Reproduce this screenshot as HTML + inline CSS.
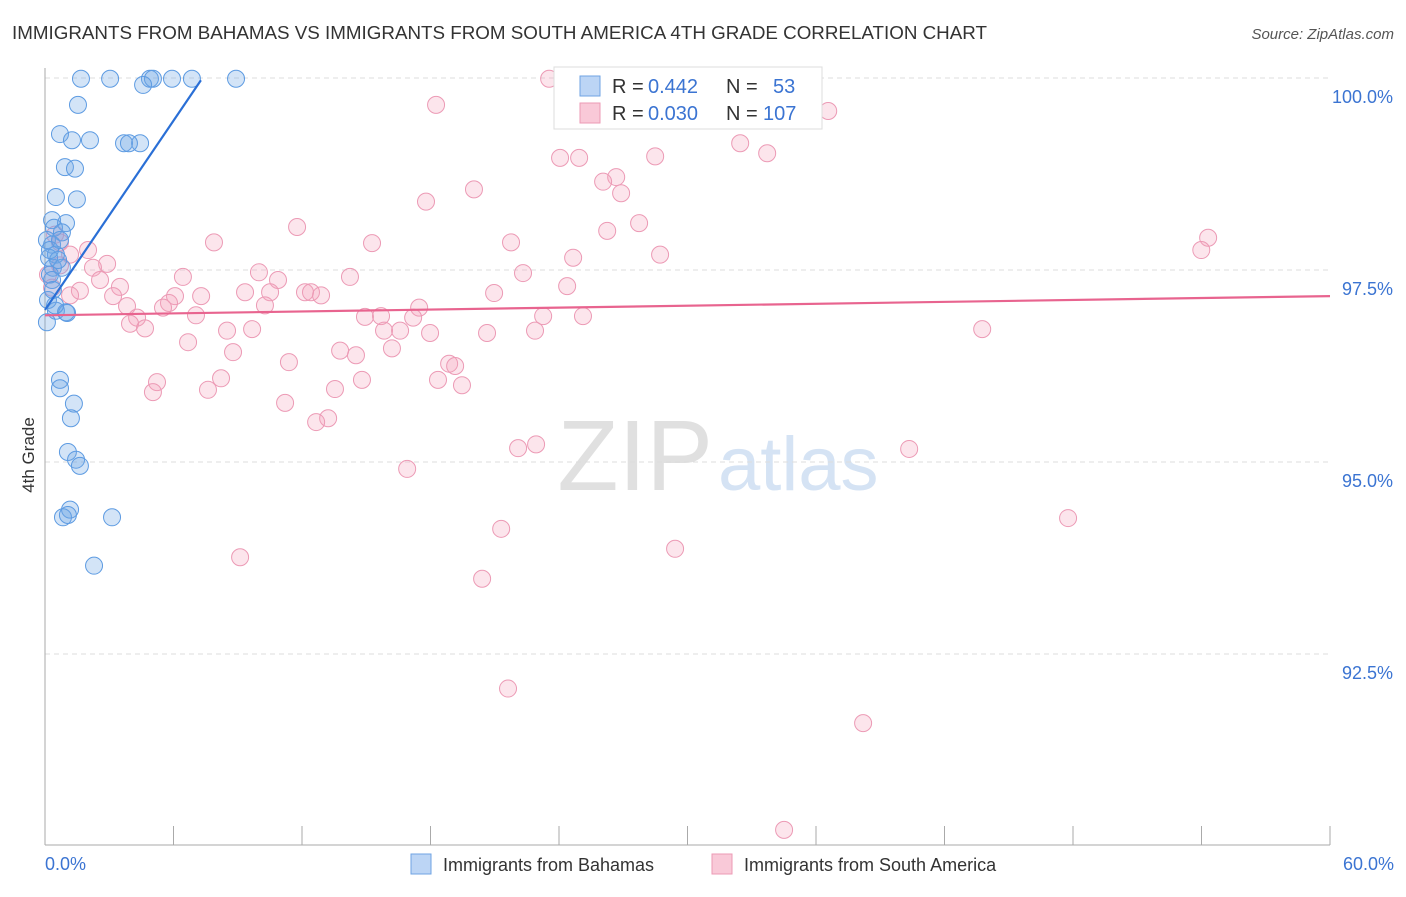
<!DOCTYPE html>
<html><head><meta charset="utf-8"><style>
body{margin:0;background:#fff;font-family:"Liberation Sans",sans-serif}
svg text{font-family:"Liberation Sans",sans-serif}
</style></head><body>
<svg id="c" width="1406" height="892" xmlns="http://www.w3.org/2000/svg">
<text x="12" y="39" font-size="18.8" fill="#333">IMMIGRANTS FROM BAHAMAS VS IMMIGRANTS FROM SOUTH AMERICA 4TH GRADE CORRELATION CHART</text>
<text x="1394" y="39" font-size="15" fill="#555" text-anchor="end" font-style="italic">Source: ZipAtlas.com</text>
<text x="713" y="490" font-size="100" fill="#e0e0e0" text-anchor="end" font-family="Liberation Serif">ZIP</text>
<text x="718" y="490" font-size="76" fill="#d5e3f4">atlas</text>
<g id="grid"></g><g id="axes"></g><g id="pts"></g><g id="trend"></g>
<text x="34" y="455" font-size="17" fill="#333" text-anchor="middle" transform="rotate(-90 34 455)">4th Grade</text>
<g>
<rect x="554" y="67" width="268" height="62" fill="#fff" stroke="#ddd"/>
<rect x="580" y="76" width="20" height="20" fill="#bcd5f5" stroke="#6fa3e3"/>
<rect x="580" y="103" width="20" height="20" fill="#f9c9d8" stroke="#ec9ab5"/>
<text x="612" y="93" font-size="20" fill="#333">R =</text>
<text x="648" y="93" font-size="20" fill="#3b74d2">0.442</text>
<text x="726" y="93" font-size="20" fill="#333">N =</text>
<text x="773" y="93" font-size="20" fill="#3b74d2">53</text>
<text x="612" y="120" font-size="20" fill="#333">R =</text>
<text x="648" y="120" font-size="20" fill="#3b74d2">0.030</text>
<text x="726" y="120" font-size="20" fill="#333">N =</text>
<text x="763" y="120" font-size="20" fill="#3b74d2">107</text>
</g>
<g>
<rect x="411" y="854" width="20" height="20" fill="#bcd5f5" stroke="#6fa3e3"/>
<text x="443" y="871" font-size="18" fill="#333">Immigrants from Bahamas</text>
<rect x="712" y="854" width="20" height="20" fill="#f9c9d8" stroke="#ec9ab5"/>
<text x="744" y="871" font-size="18" fill="#333">Immigrants from South America</text>
</g>
</svg>
<script>
const xTicks=[0,6,12,18,24,30,36,42,48,54,60];
const yTicks=[92.5,95,97.5,100];
const yTickLabels=["92.5%","95.0%","97.5%","100.0%"];
const blueX=[1.68,3.04,4.90,5.04,5.93,6.86,8.92,4.58,1.54,0.70,1.26,2.10,3.69,4.44,3.92,0.93,1.40,0.51,1.49,0.33,0.98,0.42,0.79,0.33,0.51,0.19,0.37,0.79,0.23,0.33,0.51,0.98,0.09,0.70,0.70,1.35,1.21,1.07,1.45,1.63,1.17,0.84,1.07,3.13,2.29,0.14,0.37,0.61,0.09,0.23,0.70,1.03,0.47];
const blueY=[99.99,99.99,99.99,99.99,99.99,99.99,99.99,99.91,99.65,99.27,99.19,99.19,99.15,99.15,99.15,98.84,98.82,98.45,98.42,98.15,98.11,98.05,97.99,97.83,97.70,97.66,97.53,97.53,97.44,97.37,96.97,96.95,96.82,96.07,95.96,95.76,95.57,95.13,95.03,94.95,94.38,94.28,94.31,94.28,93.65,97.11,97.24,97.63,97.89,97.76,97.89,96.94,97.04];
const pinkX=[23.54,35.31,36.57,18.26,32.46,24.05,24.94,28.49,33.72,26.67,26.06,20.03,26.90,17.79,11.77,27.74,26.25,7.89,15.27,21.76,54.31,53.99,28.72,24.66,2.01,0.70,1.17,2.90,2.24,9.99,22.32,6.44,14.24,10.88,2.57,3.50,24.38,1.63,9.34,12.14,10.51,12.42,12.89,20.97,3.18,7.29,6.07,5.79,5.51,17.47,10.27,3.83,7.05,14.94,15.69,23.26,25.12,17.19,4.30,3.97,4.67,15.83,16.58,8.50,9.67,17.98,20.64,22.88,43.76,6.68,16.20,13.78,14.52,8.78,11.39,18.87,19.15,18.35,19.47,14.80,8.22,5.23,5.04,7.61,13.54,11.21,13.22,12.66,22.09,22.93,40.35,16.91,47.77,21.30,29.42,9.11,20.41,21.62,38.20,34.51,1.17,0.70,0.47,0.14,0.33];
const pinkY=[99.99,99.97,99.57,99.65,99.15,98.96,98.96,98.98,99.02,98.71,98.65,98.55,98.50,98.39,98.06,98.11,98.01,97.86,97.85,97.86,97.92,97.76,97.70,97.66,97.76,97.86,97.70,97.58,97.53,97.47,97.46,97.41,97.41,97.37,97.37,97.28,97.29,97.23,97.21,97.21,97.21,97.21,97.17,97.20,97.16,97.16,97.16,97.07,97.01,97.01,97.04,97.03,96.91,96.89,96.90,96.90,96.90,96.88,96.88,96.80,96.74,96.71,96.71,96.71,96.73,96.68,96.68,96.71,96.73,96.56,96.48,96.45,96.39,96.43,96.30,96.28,96.25,96.07,96.00,96.07,96.09,96.04,95.91,95.94,95.95,95.77,95.57,95.52,95.18,95.23,95.17,94.91,94.27,94.13,93.87,93.76,93.48,92.05,91.60,90.21,97.17,97.56,97.96,97.44,97.27];
const blueTrend=[[0,96.98],[7.28,99.97]];
const pinkTrend=[[0,96.91],[60,97.16]];
const X=v=>45+v/60*1285, Y=v=>78+(100-v)/2.5*192;
const NS="http://www.w3.org/2000/svg";
function mk(p,t,a){const e=document.createElementNS(NS,t);for(const k in a)e.setAttribute(k,a[k]);p.appendChild(e);return e;}
const grid=document.getElementById('grid'),axes=document.getElementById('axes'),pts=document.getElementById('pts'),tr=document.getElementById('trend');
yTicks.forEach((t,i)=>{
 const l=mk(grid,'line',{x1:45,x2:1330,y1:Y(t),y2:Y(t),stroke:'#ddd','stroke-dasharray':'5,4'});
 
 
 const tx=mk(grid,'text',{x:1393,y:Y(t)+25,'font-size':18,fill:'#3b74d2','text-anchor':'end'});
 tx.textContent=yTickLabels[i];
 
 
});
const ya=mk(axes,'line',{x1:45,x2:45,y1:68,y2:845,stroke:'#aaa'});


const xa=mk(axes,'line',{x1:45,x2:1330,y1:845,y2:845,stroke:'#aaa'});


xTicks.forEach(t=>{
 const tk=mk(axes,'line',{x1:X(t),x2:X(t),y1:826,y2:845,stroke:'#aaa'});
 
 
});
const xl0=mk(axes,'text',{x:45,y:870,'font-size':18,fill:'#3b74d2'});xl0.textContent='0.0%';


const xl1=mk(axes,'text',{x:1394,y:870,'font-size':18,fill:'#3b74d2','text-anchor':'end'});xl1.textContent='60.0%';


pinkX.forEach((v,i)=>{
 const c=mk(pts,'circle',{cx:X(v),cy:Y(pinkY[i]),r:8.5,fill:'rgba(244,160,188,0.28)',stroke:'#ec9ab5','stroke-width':1});
 
 
});
blueX.forEach((v,i)=>{
 const c=mk(pts,'circle',{cx:X(v),cy:Y(blueY[i]),r:8.5,fill:'rgba(110,165,230,0.3)',stroke:'#5d9be2','stroke-width':1});
 
 
});
const bl=mk(tr,'line',{x1:X(blueTrend[0][0]),y1:Y(blueTrend[0][1]),x2:X(blueTrend[1][0]),y2:Y(blueTrend[1][1]),stroke:'#2a6fd6','stroke-width':2.2});


const pl=mk(tr,'line',{x1:X(pinkTrend[0][0]),y1:Y(pinkTrend[0][1]),x2:X(pinkTrend[1][0]),y2:Y(pinkTrend[1][1]),stroke:'#e8648f','stroke-width':2.2});


</script>
</body></html>
